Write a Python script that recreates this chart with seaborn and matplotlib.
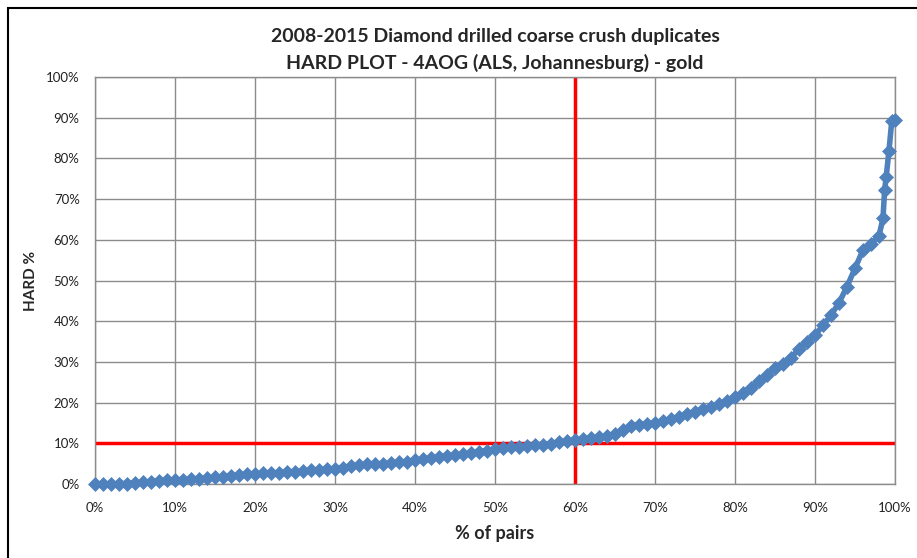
import numpy as np
import pandas as pd
import seaborn as sns
import matplotlib.pyplot as plt
from matplotlib.patches import Rectangle
from matplotlib.ticker import PercentFormatter

# % of pairs (x) and HARD % (y)
pairs_pct = [0, 1, 2, 3, 4, 5, 6, 7, 8, 9, 10, 11, 12, 13, 14, 15, 16, 17, 18, 19,
             20, 21, 22, 23, 24, 25, 26, 27, 28, 29, 30, 31, 32, 33, 34, 35, 36, 37, 38, 39,
             40, 41, 42, 43, 44, 45, 46, 47, 48, 49, 50, 51, 52, 53, 54, 55, 56, 57, 58, 59,
             60, 61, 62, 63, 64, 65, 66, 67, 68, 69, 70, 71, 72, 73, 74, 75, 76, 77, 78, 79,
             80, 81, 82, 83, 84, 85, 86, 87, 88, 89, 90, 91, 92, 93, 94, 95, 96, 97, 98,
             98.5, 98.7, 98.9, 99.25, 99.6, 100]
hard_pct = [0, 0, 0, 0.1, 0.1, 0.2, 0.4, 0.6, 0.8, 0.9, 1.0, 1.1, 1.2, 1.3, 1.4, 1.6, 1.8, 2.0, 2.2, 2.4,
            2.5, 2.6, 2.7, 2.8, 2.9, 3.0, 3.1, 3.4, 3.5, 3.6, 3.8, 4.0, 4.3, 4.6, 4.8, 4.9, 5.0, 5.1, 5.3, 5.5,
            5.8, 6.1, 6.4, 6.7, 6.9, 7.1, 7.3, 7.6, 7.9, 8.2, 8.5, 8.8, 9.0, 9.1, 9.3, 9.5, 9.7, 9.9, 10.2, 10.5,
            10.8, 11.1, 11.3, 11.5, 11.8, 12.3, 13.2, 14.3, 14.6, 14.8, 15.0, 15.4, 15.9, 16.5, 17.1, 17.8, 18.4, 19.0, 19.6, 20.4,
            21.3, 22.3, 23.5, 25.2, 26.9, 28.5, 29.5, 31.0, 33.2, 35.0, 36.5, 39.0, 41.5, 44.5, 48.5, 53.0, 57.5, 59.0, 61.0,
            65.3, 72.2, 75.5, 81.9, 89.3, 89.5]

x_ticks = list(range(0, 101, 10))
y_ticks = list(range(0, 101, 10))
pairs_cut = 60
hard_cut = 10

df = pd.DataFrame({"pairs": pairs_pct, "hard": hard_pct})

sns.set_style("white")
plt.rcParams['font.family'] = ['Lato', 'DejaVu Sans']

fig = plt.figure(figsize=(9.17, 5.58), dpi=100)
ax = fig.add_axes([95 / 917, 74 / 558, 800 / 917, 407 / 558])

ax.axvline(pairs_cut, color="red", lw=2.5, zorder=1)
ax.axhline(hard_cut, color="red", lw=2.5, zorder=1)

sns.lineplot(data=df, x="pairs", y="hard", ax=ax, color="#4F81BD", lw=4,
             marker="D", markersize=7, markeredgewidth=0.5, markeredgecolor="#4F81BD",
             zorder=3, clip_on=False)

ax.set_xlim(0, 100)
ax.set_ylim(0, 100)
ax.set_xticks(x_ticks)
ax.set_yticks(y_ticks)
ax.xaxis.set_major_formatter(PercentFormatter(decimals=0))
ax.yaxis.set_major_formatter(PercentFormatter(decimals=0))
ax.grid(True, color="#8C8C8C", lw=1)
ax.set_axisbelow(True)
for s in ax.spines.values():
    s.set_color("#8C8C8C")
    s.set_linewidth(1)
ax.tick_params(axis="both", direction="out", length=5, width=1, color="#8C8C8C",
               labelsize=9.5, labelcolor="#222222", pad=6)
ax.tick_params(axis="x", pad=8)

ax.set_xlabel("% of pairs", fontsize=13, fontweight="bold", labelpad=8)
ax.set_ylabel("HARD %", fontsize=11, fontweight="bold", labelpad=6)
ax.set_title("2008-2015 Diamond drilled coarse crush duplicates\nHARD PLOT - 4AOG (ALS, Johannesburg) - gold",
             fontsize=14, fontweight="bold", pad=6, linespacing=1.55)

# chart frame
fig.patches.append(Rectangle((8 / 917, -0.1), 1.2, (558 - 8) / 558 + 0.1, transform=fig.transFigure,
                             fill=False, edgecolor="black", lw=1.5))

fig.savefig("out.png", dpi=100)
